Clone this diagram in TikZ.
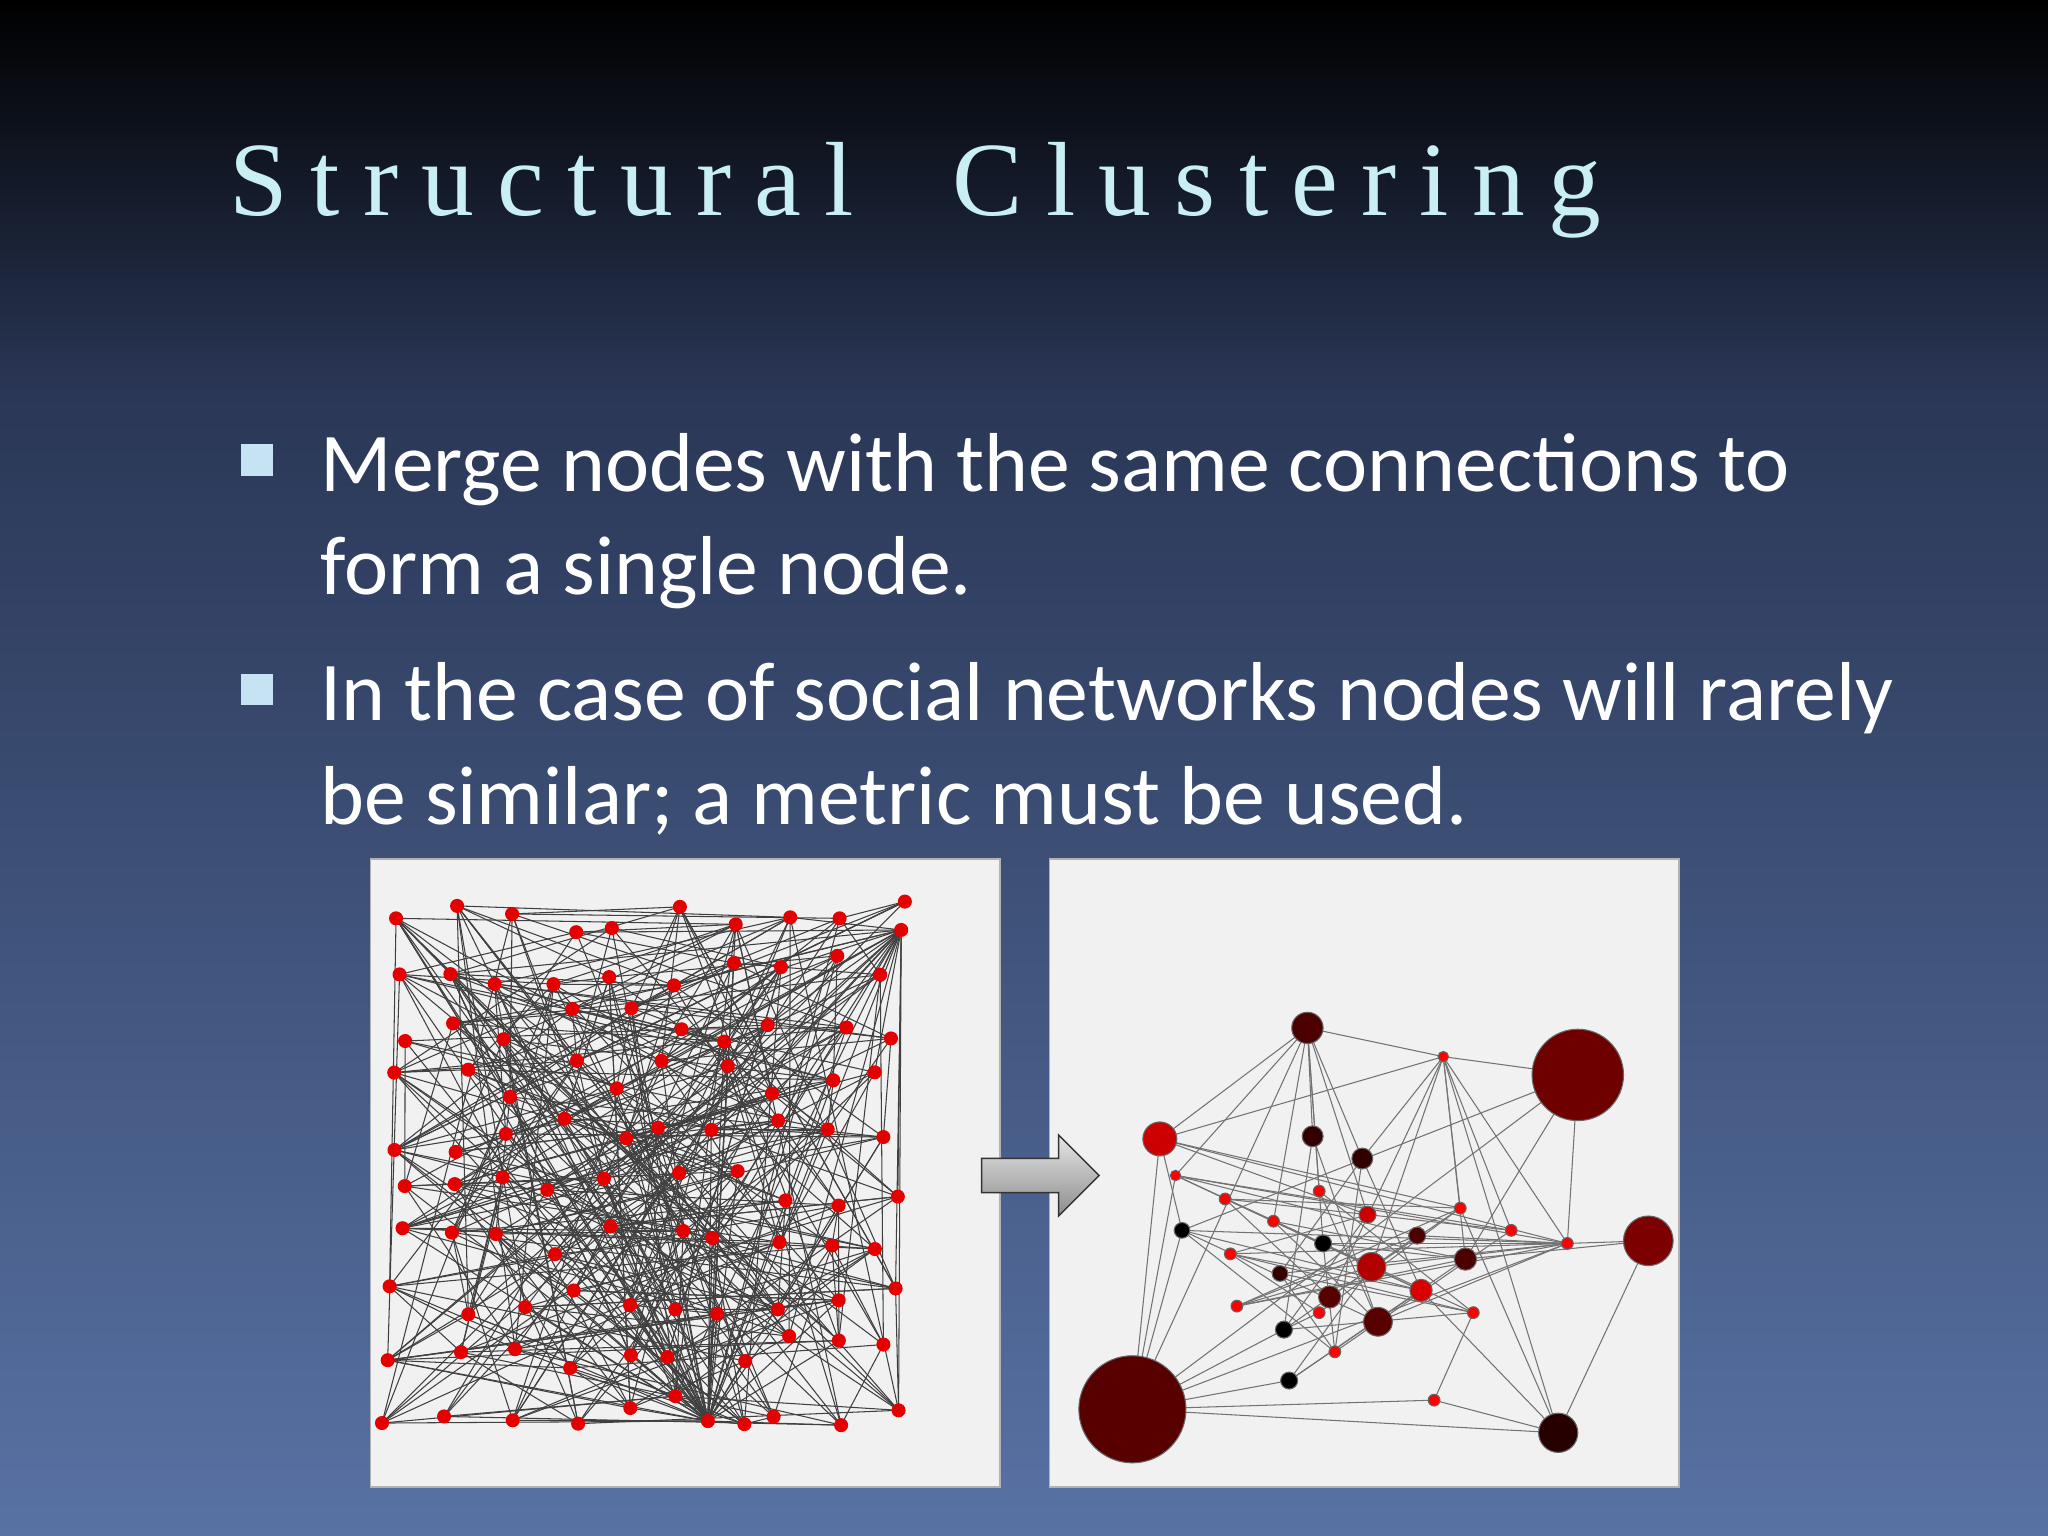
\documentclass[tikz,border=0pt]{standalone}
\usepackage{fontspec}
\setmainfont{Carlito}
\newfontfamily\titlefont[LetterSpace=22]{Liberation Serif}
\usetikzlibrary{shapes.arrows}
\definecolor{bgbot}{HTML}{5872A4}
\definecolor{bgmid}{HTML}{2A3756}
\definecolor{titlec}{HTML}{C9EEF4}
\definecolor{bul}{HTML}{C5E3F2}
\definecolor{panel}{HTML}{F1F1F1}
\definecolor{dred}{HTML}{6E0000}
\tikzset{
  reddot/.style={circle,fill=red!90!black,inner sep=0pt,minimum size=4pt},
  rnode/.style={circle,inner sep=0pt,draw=black!60,line width=0.3pt},
  edge/.style={black!75,line width=0.3pt},
  bullet/.style={fill=bul,minimum size=9pt,inner sep=0pt},
  btext/.style={text=white,font=\fontsize{23.8}{29.5}\selectfont,anchor=north west,align=left}
}
\begin{document}
\begin{tikzpicture}[x=0.013061cm,y=-0.013061cm]
\useasboundingbox (0,0) rectangle (1568,1176);
\shade[top color=black,bottom color=bgmid] (0,0) rectangle (1568,300);
\shade[top color=bgmid,bottom color=bgbot] (0,299) rectangle (1568,1176);
\node[anchor=base west,text=titlec,font=\titlefont\fontsize{30}{34}\selectfont,inner sep=0pt] (title) at (175,165) {Structural\ \ Clustering};
\node[bullet] (b1) at (197,352) {};
\node[bullet] (b2) at (197,528) {};
\node[btext] (t1) at (236,322) {Merge nodes with the same connections to\\form a single node.};
\node[btext] (t2) at (236,498) {In the case of social networks nodes will rarely\\be similar; a metric must be used.};
% panels
\node[draw=black!30,fill=panel,minimum width=482*0.013061cm,minimum height=481*0.013061cm,inner sep=0pt,anchor=north west] (P1) at (283,657) {};
\node[draw=black!30,fill=panel,minimum width=482*0.013061cm,minimum height=481*0.013061cm,inner sep=0pt,anchor=north west] (P2) at (803,657) {};
% left network
\pgfmathsetseed{7}
\foreach \r in {0,...,9}{
  \foreach \c in {0,...,9}{
    \pgfmathsetmacro{\px}{305+\c*42+rand*14}
    \pgfmathsetmacro{\py}{700+\r*42+rand*14}
    \pgfmathtruncatemacro{\k}{\r*10+\c}
    \coordinate (L\k) at (\px,\py);
  }
}
\coordinate (H) at (542,1088);
\coordinate (H2) at (690,712);
\begin{scope}
\foreach \i in {0,...,99}{
  \foreach \t in {1,...,4}{
    \pgfmathtruncatemacro{\j}{mod(\i+random(1,35),100)}
    \draw[edge] (L\i) -- (L\j);
  }
}
\foreach \i in {0,2,...,98}{ \draw[edge] (H) -- (L\i); }
\foreach \i in {3,7,...,99}{ \draw[edge] (H2) -- (L\i); }
\end{scope}
\foreach \i in {0,...,99}{ \node[reddot] (LN\i) at (L\i) {}; }
\node[reddot] (hub) at (H) {};
\node[reddot] (hub2) at (H2) {};
% arrow
\node[single arrow,draw=black!80,top color=black!10,bottom color=black!45,minimum height=90*0.013061cm,minimum width=62*0.013061cm,single arrow head extend=3pt,inner sep=2pt] (arr) at (790,900) {};
% right network
\foreach \n/\x/\y/\s/\c in {
 a/1001/787/24/dred!70!black, b/1208/823/70/dred, c/888/872/26/red!80!black, d/1262/950/38/dred!90!red, e/867/1079/82/dred!80!black, f/1193/1097/30/black!85!red,
 g/1005/870/16/black!80!red, h/1043/887/16/black!80!red, i/1105/809/8/red, j/900/900/8/red, k/905/942/12/black, l/938/918/9/red,
 m/975/935/9/red, n/1010/912/9/red, o/1047/930/13/red!80!black, p/1085/946/13/black!70!red, q/1118/925/9/red, r/1157/942/9/red,
 s/1200/952/9/red, t/942/960/9/red, u/1013/952/13/black, v/1050/970/22/red!70!black, w/1122/964/17/dred!70!black, x/980/975/12/black!80!red,
 y/1018/993/17/dred!80!black, z/1088/988/17/red!85!black, A/1128/1005/9/red, B/947/1000/9/red, C/983/1018/13/black, D/1055/1012/22/dred!80!black,
 E/1022/1035/9/red, F/987/1057/13/black, G/1098/1072/9/red, H/1010/1005/9/red}{
  \coordinate (R\n) at (\x,\y);
}
\foreach \u/\v in {a/g,a/h,a/c,a/j,a/n,a/u,a/m,a/o,i/b,i/w,i/s,i/r,i/q,i/h,i/v,i/y,b/s,b/e,b/w,c/s,c/k,c/e,c/q,c/o,d/s,d/w,s/e,s/k,s/j,s/t,s/x,s/B,s/D,s/u,s/v,s/p,r/j,r/l,f/z,f/d,f/i,f/q,f/e,f/G,e/k,e/F,e/C,e/G,e/j,e/a,j/z,j/p,j/A,l/q,l/v,m/z,m/w,n/D,n/A,o/t,o/C,p/B,p/C,q/B,t/z,t/A,u/w,u/E,v/F,v/B,w/B,x/A,x/E,y/l,y/q,z/F,z/k,C/A,C/H,D/k,D/m,E/k,E/r,g/D,g/C,h/E,h/x,h/z,H/q,H/t,k/b,F/w,G/A,a/i,i/c}{
  \draw[edge,black!55] (R\u) -- (R\v);
}
\foreach \n/\x/\y/\s/\c in {
 a/1001/787/24/dred!70!black, b/1208/823/70/dred, c/888/872/26/red!80!black, d/1262/950/38/dred!90!red, e/867/1079/82/dred!80!black, f/1193/1097/30/black!85!red,
 g/1005/870/16/black!80!red, h/1043/887/16/black!80!red, i/1105/809/8/red, j/900/900/8/red, k/905/942/12/black, l/938/918/9/red,
 m/975/935/9/red, n/1010/912/9/red, o/1047/930/13/red!80!black, p/1085/946/13/black!70!red, q/1118/925/9/red, r/1157/942/9/red,
 s/1200/952/9/red, t/942/960/9/red, u/1013/952/13/black, v/1050/970/22/red!70!black, w/1122/964/17/dred!70!black, x/980/975/12/black!80!red,
 y/1018/993/17/dred!80!black, z/1088/988/17/red!85!black, A/1128/1005/9/red, B/947/1000/9/red, C/983/1018/13/black, D/1055/1012/22/dred!80!black,
 E/1022/1035/9/red, F/987/1057/13/black, G/1098/1072/9/red, H/1010/1005/9/red}{
  \node[rnode,fill=\c,minimum size=\s*0.013061cm] (RN\n) at (R\n) {};
}
\end{tikzpicture}
\end{document}
